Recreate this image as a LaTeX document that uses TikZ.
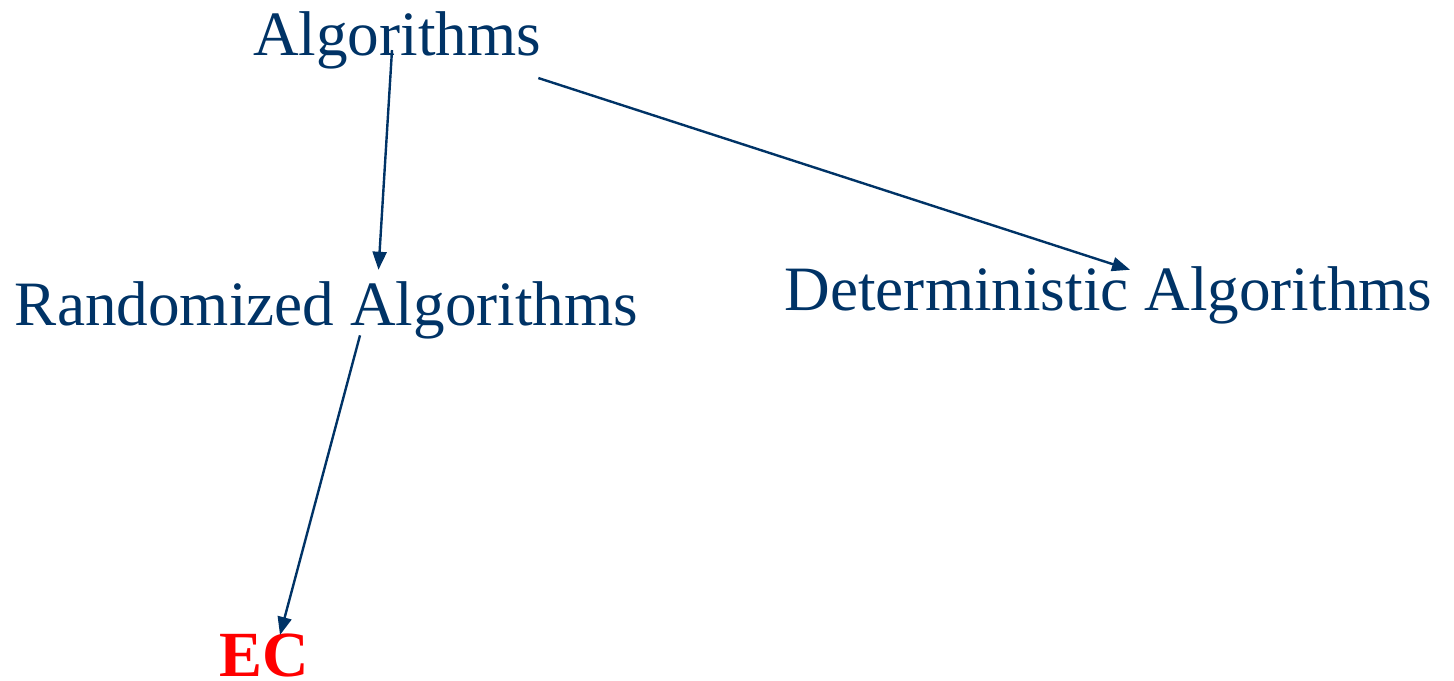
\documentclass[tikz,border=0pt]{standalone}
\usepackage{fontspec}
\setmainfont{Liberation Serif}
\usetikzlibrary{arrows.meta}
\definecolor{navy}{RGB}{0,51,102}
\definecolor{ecred}{RGB}{255,0,0}
\begin{document}
\begin{tikzpicture}[x=0.5pt,y=-0.5pt,>=Latex,
term/.style={inner sep=0pt,anchor=base,text=navy,font=\fontsize{31.6pt}{36pt}\selectfont},
leaf/.style={term,text=ecred,font=\fontsize{32.2pt}{36pt}\selectfont\bfseries},
flow/.style={-{Triangle[length=9pt,width=7pt]},line width=1.2pt,draw=navy}]
\useasboundingbox (0,0) rectangle (1454,680);
\node[term] (alg) at (397,55) {Algorithms};
\node[term] (rnd) at (326.5,325) {Randomized Algorithms};
\node[term] (det) at (1108.5,310) {Deterministic Algorithms};
\node[leaf] (ec) at (264,676) {EC};
\draw[flow] ([xshift=-2.5pt,yshift=9.5pt]alg.south) -- ([xshift=26pt,yshift=5.5pt]rnd.north);
\draw[flow] ([xshift=-1.5pt,yshift=-4.5pt]alg.south east) -- ([xshift=10.75pt,yshift=-2pt]det.north);
\draw[flow] ([xshift=16.75pt,yshift=1.85pt]rnd.south) -- ([xshift=8pt,yshift=-1pt]ec.north);
\end{tikzpicture}
\end{document}
